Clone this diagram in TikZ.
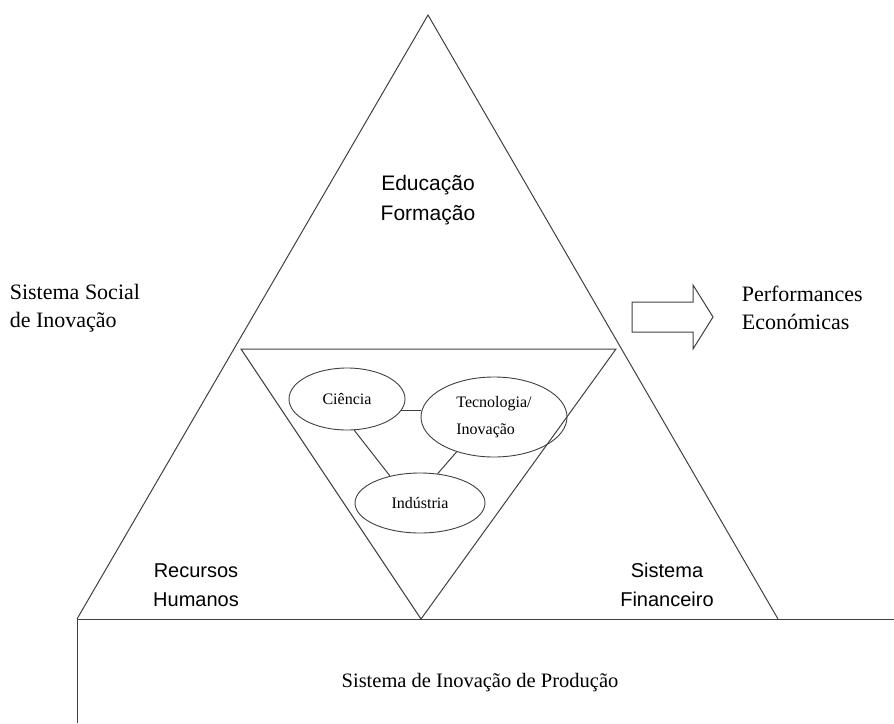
\documentclass[tikz,border=0pt]{standalone}
\usepackage{fontspec}
\setmainfont{Liberation Serif}
\newfontfamily\arialfont{Liberation Sans}
\usetikzlibrary{shapes.geometric}

\begin{document}
\begin{tikzpicture}[x=1pt,y=-1pt,line width=1pt,
  line/.style={draw=black!75},
  blob/.style={ellipse,draw=black!75,line width=0.9pt,inner sep=0pt,
               font=\fontsize{16}{27}\selectfont},
  corner/.style={font=\arialfont\fontsize{20}{29}\selectfont,align=center},
  outside/.style={font=\fontsize{22}{28}\selectfont,align=left}]

  \useasboundingbox (0,0) rectangle (894,723);

  % ---------- big triangle ----------
  \coordinate (bl) at (77,619);
  \coordinate (top) at (428,15);
  \coordinate (br) at (778,619);
  \draw[line] (bl) -- (top) -- (br);

  % ---------- inner triangle ----------
  \coordinate (il) at (241,349);
  \coordinate (ir) at (616,349);
  \coordinate (ib) at (421,619);
  \draw[line] (il) -- (ir) -- (ib) -- cycle;

  % ---------- production box ----------
  \draw[line] (77,723) -- (bl) -- (894,619);
  \node[font=\fontsize{20.5}{24}\selectfont] (prod) at (480,683)
    {Sistema de Inovação de Produção};

  % corner labels
  \node[corner,font=\arialfont\fontsize{21}{30}\selectfont] (edu) at (428,200)
    {Educação\\Formação};
  \node[corner] (rh) at (196,585) {Recursos\\Humanos};
  \node[corner] (sf) at (667,585) {Sistema\\Financeiro};

  % ---------- ellipses ----------
  \node[blob,minimum width=116,minimum height=62] (cien) at (347,399) {Ciência};
  \node[blob,minimum width=146,minimum height=80,align=left] (tec) at (494,417)
    {Tecnologia/\\Inovação};
  \node[blob,minimum width=130,minimum height=60] (ind) at (420,503) {Indústria};
  \draw[line] (cien.-12) -- (cien.-12 -| tec.west);
  \draw[line] (cien.-77) -- (ind.138);
  \draw[line] (tec.-137) -- (ind.59);

  % outside labels
  \node[outside,anchor=west] (social) at (6,308) {Sistema Social\\de Inovação};
  \node[outside,anchor=west] (perf) at (738,308) {Performances\\Económicas};

  % block arrow
  \draw[line] (632,302) -- (693,302) -- (693,285) -- (713,317)
    -- (693,349) -- (693,332) -- (632,332) -- cycle;

\end{tikzpicture}
\end{document}
